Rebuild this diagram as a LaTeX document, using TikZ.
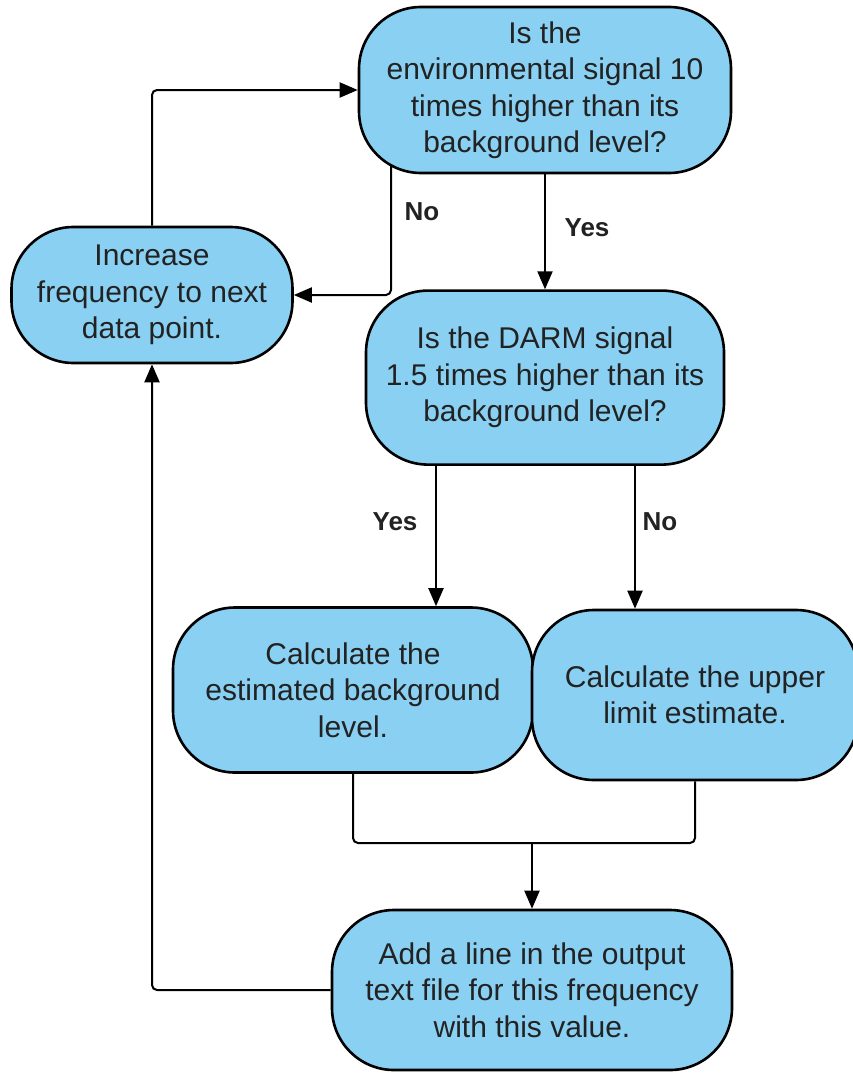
\documentclass[tikz,border=0pt]{standalone}
\usepackage{fontspec}
\setmainfont{Liberation Sans}
\usepackage{tikz}
\usetikzlibrary{positioning}
\usetikzlibrary{arrows.meta}
\usetikzlibrary{backgrounds}
\definecolor{boxblue}{RGB}{138,208,242}
\definecolor{inkgray}{RGB}{34,34,34}
\tikzstyle{block}=[draw=black, fill=boxblue, line width=2.6pt, rounded corners=62pt, align=center, text=inkgray, inner sep=0pt, font=\fontsize{30}{36.5}\selectfont]
\tikzstyle{conn}=[line width=2pt, rounded corners=5pt]
\tikzstyle{connarrow}=[conn, -{Triangle[length=18pt,width=15pt]}]
\tikzstyle{answer}=[font=\bfseries\fontsize{26}{30}\selectfont, text=inkgray]

\begin{document}
\begin{tikzpicture}[x=1pt, y=-1pt]
            \useasboundingbox (0,0) rectangle (853,1073);

            \node[block, minimum width=372pt, minimum height=166pt] (envq) at (545,90) {Is the\\environmental signal 10\\times higher than its\\background level?};
            \node[block, minimum width=358pt, minimum height=174pt, below=115pt of envq] (darmq) {Is the DARM signal\\1.5 times higher than its\\background level?};
            \node[block, minimum width=281pt, minimum height=136pt] (incr) at (152,295) {Increase\\frequency to next\\data point.};
            \node[block, minimum width=360pt, minimum height=165pt] (bkg) at (353,690) {Calculate the\\estimated background\\level.};
            \node[block, minimum width=326pt, minimum height=170pt] (upper) at (695,695) {Calculate the upper\\limit estimate.};
            \node[block, minimum width=400pt, minimum height=160pt] (addline) at (532,990) {Add a line in the output\\text file for this frequency\\with this value.};

            \node[answer] (no1) at (422,212) {No};
            \node[answer] (yes1) at (587,228) {Yes};
            \node[answer] (yes2) at (395,522) {Yes};
            \node[answer] (no2) at (660,522) {No};

            \begin{scope}[on background layer]
            \draw[connarrow] (incr.north) |- (envq.west);
            \draw[connarrow] ([xshift=-154pt]envq.center) |- (incr.east);
            \draw[connarrow] (envq.south) -- (darmq.north);
            \draw[connarrow] ([xshift=-109pt]darmq.center) -- ([xshift=-109pt]darmq.center |- bkg.north);
            \draw[connarrow] ([xshift=90pt]darmq.center) -- ([xshift=90pt]darmq.center |- upper.north);

            \coordinate (merge) at (532,843);
            \draw[conn] (bkg.south) |- (merge);
            \draw[conn] (upper.south) |- (merge);
            \draw[connarrow] (merge) -- (addline.north);
            \draw[connarrow] (addline.west) -| (incr.south);
            \end{scope}
        \end{tikzpicture}
\end{document}
